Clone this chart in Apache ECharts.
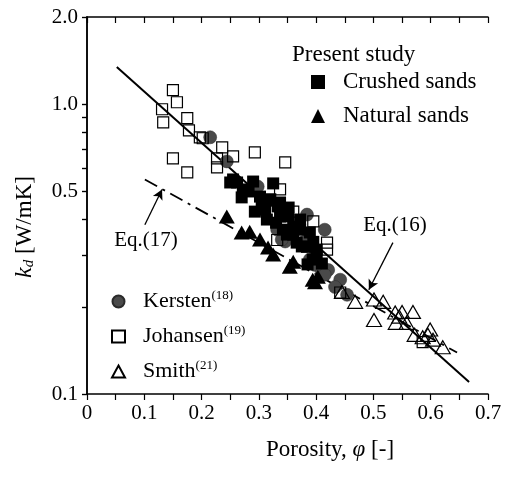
<!DOCTYPE html>
<html><head><meta charset="utf-8">
<script src="https://cdn.jsdelivr.net/npm/echarts@6/dist/echarts.min.js"></script>
<style>html,body{margin:0;padding:0;background:#fff}#c{width:513px;height:482px}</style>
</head><body><div id="c"></div>
<script>
// ---- data (porosity, k_d [W/mK]) ----
var crushedSands = [[0.250,0.537],[0.262,0.537],[0.255,0.550],[0.272,0.508],[0.270,0.477],[0.290,0.541],[0.325,0.533],[0.302,0.480],[0.305,0.458],[0.293,0.426],[0.311,0.433],[0.333,0.444],[0.337,0.458],[0.314,0.400],[0.337,0.410],[0.351,0.410],[0.360,0.378],[0.342,0.369],[0.349,0.355],[0.372,0.369],[0.372,0.400],[0.389,0.361],[0.366,0.333],[0.375,0.323],[0.384,0.322],[0.401,0.315],[0.401,0.298],[0.394,0.291],[0.385,0.280],[0.410,0.282],[0.282,0.500],[0.320,0.470],[0.352,0.440],[0.330,0.390],[0.360,0.355],[0.395,0.335]];
var naturalSands = [[0.244,0.410],[0.270,0.361],[0.284,0.363],[0.302,0.341],[0.316,0.320],[0.325,0.303],[0.360,0.286],[0.354,0.275],[0.394,0.248],[0.403,0.254],[0.398,0.243]];
var kersten = [[0.215,0.769],[0.244,0.635],[0.298,0.520],[0.384,0.416],[0.415,0.369],[0.332,0.369],[0.346,0.336],[0.340,0.341],[0.380,0.336],[0.394,0.322],[0.389,0.291],[0.398,0.279],[0.410,0.262],[0.421,0.268],[0.415,0.258],[0.442,0.248],[0.433,0.234],[0.454,0.220]];
var johansen = [[0.150,1.118],[0.157,1.016],[0.131,0.961],[0.133,0.866],[0.175,0.895],[0.178,0.813],[0.197,0.769],[0.202,0.763],[0.236,0.710],[0.150,0.650],[0.175,0.582],[0.293,0.682],[0.346,0.630],[0.255,0.661],[0.227,0.650],[0.227,0.605],[0.337,0.508],[0.360,0.426],[0.395,0.394],[0.419,0.333],[0.419,0.315],[0.332,0.340],[0.442,0.224],[0.586,0.151]];
var smith = [[0.445,0.225],[0.468,0.208],[0.501,0.212],[0.517,0.208],[0.501,0.180],[0.538,0.191],[0.550,0.192],[0.569,0.192],[0.539,0.176],[0.558,0.176],[0.572,0.160],[0.599,0.167],[0.586,0.157],[0.604,0.154],[0.621,0.145],[0.545,0.185],[0.595,0.160]];
var eq16 = [[0.052,1.343],[0.667,0.110]];
var eq17 = [[0.101,0.550],[0.646,0.139]];
var eq17Arrow = [[0.101,0.384],[0.131,0.508]];
var eq16Arrow = [[0.534,0.333],[0.492,0.229]];
var xTicks = [0,0.1,0.2,0.3,0.4,0.5,0.6,0.7];
var yLabelValues = [0.1,0.5,1.0,2.0];
var yTickValues = [0.1,0.2,0.3,0.4,0.5,0.6,0.7,0.8,0.9,1.0,2.0];
var superscripts = {Kersten:'(18)', Johansen:'(19)', Smith:'(21)'};

var F = 'Liberation Serif';
var chart = echarts.init(document.getElementById('c'));
var axLine = {show:true, lineStyle:{color:'#000', width:1.5}};
function xAxisCfg(pos, showLabel, inside){
  return {type:'value', position:pos, min:xTicks[0], max:xTicks[xTicks.length-1], interval:0.1,
    axisLine:axLine, splitLine:{show:false},
    axisTick:{show:true, inside:inside, length:6, lineStyle:{color:'#000',width:1.2}},
    minorTick:{show:true, splitNumber:2, length:6, lineStyle:{color:'#000',width:1.2}},
    axisLabel:{show:showLabel, margin:9, color:'#000', fontFamily:F, fontSize:21,
      formatter:function(v){return v===0?'0':v.toFixed(1);}}};
}
function yAxisCfg(pos, showLabel, inside){
  return {type:'log', logBase:10, position:pos, min:0.1, max:2.0,
    axisLine:axLine, splitLine:{show:false}, minorTick:{show:false},
    axisTick:{show:true, inside:inside, length:5, customValues:yTickValues, lineStyle:{color:'#000',width:1.2}},
    axisLabel:{show:showLabel, margin:9, color:'#000', fontFamily:F, fontSize:21, customValues:yLabelValues,
      formatter:function(v){return Number(v).toFixed(1);}}};
}
var option = {
  animation:false,
  backgroundColor:'#fff',
  grid:{left:87, right:25, top:17, bottom:88},
  xAxis:[xAxisCfg('bottom', true, false), xAxisCfg('top', false, true)],
  yAxis:[yAxisCfg('left', true, false), yAxisCfg('right', false, true)],
  legend:[
    {data:['Crushed sands','Natural sands'], orient:'vertical', left:306, top:65, itemWidth:14, itemHeight:14, itemGap:10,
     selectedMode:false,
     formatter:function(n){return '{p|}{t|'+n+'}';},
     textStyle:{fontFamily:F, fontSize:23, color:'#000', lineHeight:24,
       rich:{p:{width:13}, t:{fontFamily:F, fontSize:23, color:'#000'}}}},
    {data:['Kersten','Johansen','Smith'], orient:'vertical', left:106, top:284, itemWidth:13, itemHeight:12, itemGap:10,
     selectedMode:false,
     formatter:function(n){return '{p|}{t|'+n+'}{s|'+superscripts[n]+'}';},
     textStyle:{fontFamily:F, fontSize:22, color:'#000', lineHeight:25,
       rich:{p:{width:13}, t:{fontFamily:F, fontSize:22, color:'#000'}, s:{fontFamily:F, fontSize:13, color:'#000', padding:[0,0,12,0]}}}}
  ],
  series:[
    {type:'line', name:'Eq16', data:eq16, symbol:'none', z:1, lineStyle:{color:'#000', width:2}, silent:true,
     markLine:{silent:true, symbol:['none','arrow'], symbolSize:[8,10], label:{show:false},
       lineStyle:{color:'#000', width:1.3, type:'solid'},
       data:[[{coord:eq16Arrow[0]},{coord:eq16Arrow[1]}],[{coord:eq17Arrow[0]},{coord:eq17Arrow[1]}]]}},
    {type:'line', name:'Eq17', data:eq17, symbol:'none', z:1, lineStyle:{color:'#000', width:1.8, type:[14,6,3,6]}, silent:true},
    {type:'scatter', name:'Kersten', data:kersten, symbol:'circle', symbolSize:13, z:3,
     itemStyle:{color:'#4a4a4a', borderColor:'#2a2a2a', borderWidth:0.5, opacity:1}},
    {type:'scatter', name:'Crushed sands', data:crushedSands, symbol:'rect', symbolSize:12, z:4,
     itemStyle:{color:'#000', opacity:1}},
    {type:'scatter', name:'Natural sands', data:naturalSands, symbol:'triangle', symbolSize:[16,14], z:4,
     itemStyle:{color:'#000', opacity:1}},
    {type:'scatter', name:'Johansen', data:johansen, symbol:'rect', symbolSize:11, z:5,
     itemStyle:{color:'rgba(255,255,255,0)', borderColor:'#000', borderWidth:1.2, opacity:1}},
    {type:'scatter', name:'Smith', data:smith, symbol:'triangle', symbolSize:[15,13], z:5,
     itemStyle:{color:'rgba(255,255,255,0)', borderColor:'#000', borderWidth:1.2, opacity:1}}
  ],
  graphic:[
    {type:'text', x:292, y:55, style:{text:'Present study', fontFamily:F, fontSize:23, fill:'#000', align:'left', verticalAlign:'middle'}},
    {type:'text', x:146, y:240, style:{text:'Eq.(17)', fontFamily:F, fontSize:21, fill:'#000', align:'center', verticalAlign:'middle'}},
    {type:'text', x:395, y:225, style:{text:'Eq.(16)', fontFamily:F, fontSize:21, fill:'#000', align:'center', verticalAlign:'middle'}},
    {type:'text', x:330, y:450, style:{text:'{n|Porosity, }{i|\u03C6}{n| [-]}', align:'center', verticalAlign:'middle',
      rich:{n:{fontFamily:F, fontSize:23, fill:'#000'}, i:{fontFamily:F, fontSize:23, fontStyle:'italic', fill:'#000'}}}},
    {type:'text', x:25, y:227, rotation:Math.PI/2, style:{text:'{k|k}{d|d}{n| [W/mK]}', align:'center', verticalAlign:'middle',
      rich:{k:{fontFamily:F, fontSize:24, fontStyle:'italic', fill:'#000'}, d:{fontFamily:F, fontSize:15, fontStyle:'italic', fill:'#000', padding:[8,0,0,0]}, n:{fontFamily:F, fontSize:23, fill:'#000'}}}}
  ]
};
chart.setOption(option);
</script></body></html>
